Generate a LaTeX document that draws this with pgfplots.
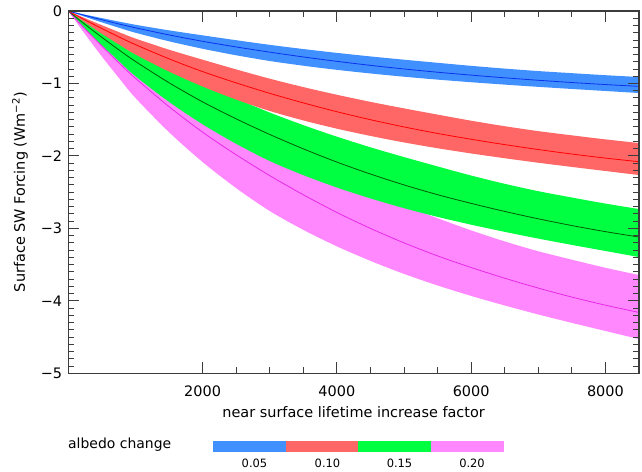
\documentclass[border=0pt]{standalone}
\usepackage{fontspec}
\setmainfont{DejaVu Sans}
\usepackage{pgfplots}
\pgfplotsset{compat=1.18}
\usepackage{pgfplotstable}
\usepgfplotslibrary{fillbetween}

\definecolor{axgray}{RGB}{60,60,60}
\definecolor{bandblue}{RGB}{64,144,255}
\definecolor{lineblue}{RGB}{10,50,235}
\definecolor{bandred}{RGB}{255,102,102}
\definecolor{linered}{RGB}{255,0,0}
\definecolor{bandgreen}{RGB}{0,255,64}
\definecolor{linegreen}{RGB}{0,90,0}
\definecolor{bandmag}{RGB}{255,136,255}
\definecolor{linemag}{RGB}{230,40,230}

% columns: x, upper bound, centre, lower bound
\pgfplotstableread{
x u c l
0 0 0 0
250 -0.050 -0.062 -0.080
500 -0.098 -0.121 -0.157
750 -0.145 -0.178 -0.230
1000 -0.190 -0.232 -0.300
1500 -0.267 -0.330 -0.418
2000 -0.336 -0.418 -0.521
2500 -0.403 -0.496 -0.611
3000 -0.467 -0.568 -0.690
3500 -0.525 -0.634 -0.755
4000 -0.578 -0.695 -0.812
4500 -0.627 -0.750 -0.862
5000 -0.672 -0.800 -0.907
5500 -0.715 -0.845 -0.947
6000 -0.757 -0.885 -0.983
6500 -0.795 -0.922 -1.016
7000 -0.829 -0.956 -1.047
7500 -0.858 -0.987 -1.076
8000 -0.886 -1.015 -1.104
8500 -0.911 -1.040 -1.132
}\tblA

\pgfplotstableread{
x u c l
0 0 0 0
250 -0.100 -0.124 -0.160
500 -0.196 -0.242 -0.314
750 -0.290 -0.356 -0.460
1000 -0.380 -0.464 -0.600
1500 -0.534 -0.660 -0.836
2000 -0.672 -0.836 -1.042
2500 -0.806 -0.992 -1.222
3000 -0.934 -1.136 -1.380
3500 -1.050 -1.268 -1.510
4000 -1.156 -1.390 -1.624
4500 -1.254 -1.500 -1.724
5000 -1.344 -1.600 -1.814
5500 -1.430 -1.690 -1.894
6000 -1.514 -1.770 -1.966
6500 -1.590 -1.844 -2.032
7000 -1.658 -1.912 -2.094
7500 -1.716 -1.974 -2.152
8000 -1.772 -2.030 -2.208
8500 -1.822 -2.080 -2.264
}\tblB

\pgfplotstableread{
x u c l
0 0 0 0
250 -0.150 -0.186 -0.240
500 -0.294 -0.363 -0.471
750 -0.435 -0.534 -0.690
1000 -0.570 -0.696 -0.900
1500 -0.801 -0.990 -1.254
2000 -1.008 -1.254 -1.563
2500 -1.209 -1.488 -1.833
3000 -1.401 -1.704 -2.070
3500 -1.575 -1.902 -2.265
4000 -1.734 -2.085 -2.436
4500 -1.881 -2.250 -2.586
5000 -2.016 -2.400 -2.721
5500 -2.145 -2.535 -2.841
6000 -2.271 -2.655 -2.949
6500 -2.385 -2.766 -3.048
7000 -2.487 -2.868 -3.141
7500 -2.574 -2.961 -3.228
8000 -2.658 -3.045 -3.312
8500 -2.733 -3.120 -3.396
}\tblC

\pgfplotstableread{
x u c l
0 0 0 0
250 -0.200 -0.248 -0.320
500 -0.392 -0.484 -0.628
750 -0.580 -0.712 -0.920
1000 -0.760 -0.928 -1.200
1500 -1.068 -1.320 -1.672
2000 -1.344 -1.672 -2.084
2500 -1.612 -1.984 -2.444
3000 -1.868 -2.272 -2.760
3500 -2.100 -2.536 -3.020
4000 -2.312 -2.780 -3.248
4500 -2.508 -3.000 -3.448
5000 -2.688 -3.200 -3.628
5500 -2.860 -3.380 -3.788
6000 -3.028 -3.540 -3.932
6500 -3.180 -3.688 -4.064
7000 -3.316 -3.824 -4.188
7500 -3.432 -3.948 -4.304
8000 -3.544 -4.060 -4.416
8500 -3.644 -4.160 -4.528
}\tblD

\begin{document}
\begin{tikzpicture}
\path (0,0) rectangle (642bp,472bp);
\begin{axis}[
  at={(68.3bp,98.7bp)}, anchor=south west,
  width=570.7bp, height=362.3bp, scale only axis,
  xmin=0, xmax=8500, ymin=-5, ymax=0,
  xtick={2000,4000,6000,8000},
  xticklabels={2000,4000,6000,8000},
  minor x tick num=3,
  ytick={-5,-4,-3,-2,-1,0},
  yticklabels={−5,−4,−3,−2,−1,0},
  minor y tick num=9,
  tick align=inside,
  major tick length=11bp, minor tick length=6bp,
  axis line style={draw=axgray, line width=1.2bp},
  every tick/.style={axgray, line width=0.9bp},
  tick label style={font=\fontsize{14.5}{17}\selectfont, text=black},
  every x tick label/.append style={anchor=base, yshift=-23.4bp, inner sep=0pt},
  every y tick label/.append style={anchor=east, xshift=-6bp, inner sep=0pt},
  xlabel={near surface lifetime increase factor},
  xlabel style={at={(axis description cs:0.5,-0.123)}, anchor=base, inner sep=0pt, font=\fontsize{14.5}{17}\selectfont},
  ylabel={Surface SW Forcing (Wm\textsuperscript{−2})},
  ylabel style={at={(axis description cs:-0.0846,0.5)}, anchor=center, rotate=0, inner sep=0pt, font=\fontsize{14.5}{17}\selectfont},
  axis on top,
]
% bands (drawn from the lowest to the highest)
\addplot[draw=none, smooth, name path=Du, forget plot] table[x=x,y=u]{\tblD};
\addplot[draw=none, smooth, name path=Dl, forget plot] table[x=x,y=l]{\tblD};
\addplot[fill=bandmag, draw=none, forget plot] fill between[of=Du and Dl];
\addplot[draw=none, smooth, name path=Cu, forget plot] table[x=x,y=u]{\tblC};
\addplot[draw=none, smooth, name path=Cl, forget plot] table[x=x,y=l]{\tblC};
\addplot[fill=bandgreen, draw=none, forget plot] fill between[of=Cu and Cl];
\addplot[draw=none, smooth, name path=Bu, forget plot] table[x=x,y=u]{\tblB};
\addplot[draw=none, smooth, name path=Bl, forget plot] table[x=x,y=l]{\tblB};
\addplot[fill=bandred, draw=none, forget plot] fill between[of=Bu and Bl];
\addplot[draw=none, smooth, name path=Au, forget plot] table[x=x,y=u]{\tblA};
\addplot[draw=none, smooth, name path=Al, forget plot] table[x=x,y=l]{\tblA};
\addplot[fill=bandblue, draw=none, forget plot] fill between[of=Au and Al];
% centre lines
\addplot[linemag, line width=0.8bp, smooth, no marks] table[x=x,y=c]{\tblD};
\addplot[linegreen, line width=0.8bp, smooth, no marks] table[x=x,y=c]{\tblC};
\addplot[linered, line width=0.8bp, smooth, no marks] table[x=x,y=c]{\tblB};
\addplot[lineblue, line width=0.8bp, smooth, no marks] table[x=x,y=c]{\tblA};
\end{axis}
% albedo legend
\node[anchor=base west, inner sep=0pt, font=\fontsize{14}{16}\selectfont] at (68bp,24bp) {albedo change};
\fill[bandblue] (213bp,20.3bp) rectangle (286bp,31.3bp);
\fill[bandred] (286bp,20.3bp) rectangle (358.3bp,31.3bp);
\fill[bandgreen] (358.3bp,20.3bp) rectangle (430.7bp,31.3bp);
\fill[bandmag] (430.7bp,20.3bp) rectangle (504bp,31.3bp);
\node[anchor=base, inner sep=0pt, font=\fontsize{11.5}{13}\selectfont] at (254.5bp,4.7bp) {0.05};
\node[anchor=base, inner sep=0pt, font=\fontsize{11.5}{13}\selectfont] at (327.5bp,4.7bp) {0.10};
\node[anchor=base, inner sep=0pt, font=\fontsize{11.5}{13}\selectfont] at (399.5bp,4.7bp) {0.15};
\node[anchor=base, inner sep=0pt, font=\fontsize{11.5}{13}\selectfont] at (472bp,4.7bp) {0.20};
\end{tikzpicture}
\end{document}
